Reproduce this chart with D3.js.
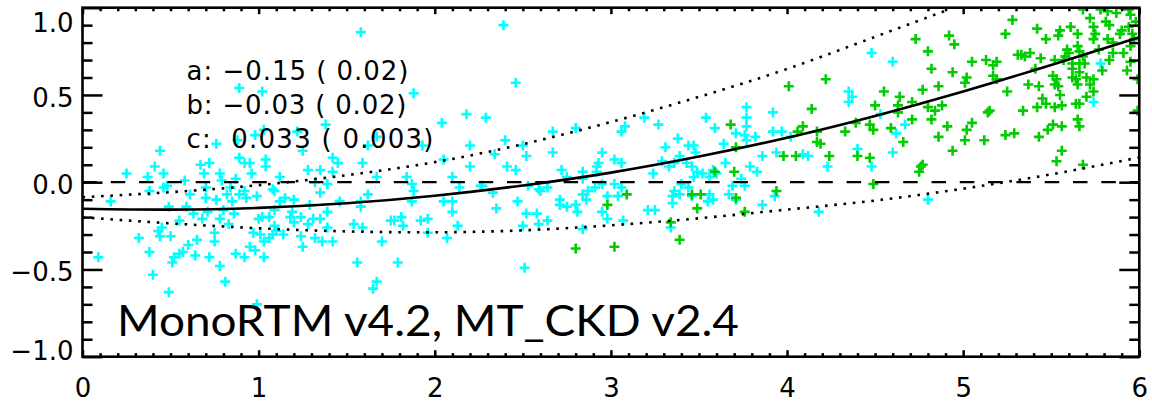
<!DOCTYPE html>
<html><head><meta charset="utf-8">
<script src="https://cdn.jsdelivr.net/npm/d3@7"></script>
<style>
html,body{margin:0;padding:0;background:#fff;overflow:hidden}
svg{display:block}
text{font-family:"DejaVu Sans",sans-serif}
</style>
</head><body>
<svg id="chart" width="1152" height="405"></svg>
<script>
// ---------- data ----------
const xTickValues = [0, 1, 2, 3, 4, 5, 6];
const xTickLabels = ["0", "1", "2", "3", "4", "5", "6"];
const yTickValues = [-1, -0.5, 0, 0.5, 1];
const yTickLabels = ["\u22121.0", "\u22120.5", "0.0", "0.5", "1.0"];

const fitX = [0, 0.5, 1, 1.5, 2, 2.5, 3, 3.5, 4, 4.5, 5, 5.5, 6];
const fitY = [-0.152, -0.157, -0.147, -0.121, -0.078, -0.019, 0.055, 0.147, 0.255, 0.380, 0.520, 0.672, 0.830];

const upperX = [0, 0.5, 1, 1.5, 2, 2.5, 3, 3.5, 4, 4.5, 4.92];
const upperY = [-0.086, -0.057, -0.017, 0.040, 0.115, 0.218, 0.345, 0.489, 0.649, 0.833, 0.99];

const lowerX = [0, 0.5, 1, 1.5, 2, 2.5, 3, 3.5, 4, 4.5, 5, 5.5, 6];
const lowerY = [-0.201, -0.236, -0.264, -0.282, -0.287, -0.276, -0.247, -0.207, -0.157, -0.105, -0.037, 0.045, 0.142];

const cyanPoints = [
[0.09,-0.43],[0.16,-0.11],[0.25,0.05],[0.32,-0.32],[0.37,0.03],[0.38,-0.40],[0.38,-0.05],[0.40,-0.53],[0.41,0.09],[0.44,0.18],
[0.43,-0.28],[0.44,-0.31],[0.45,-0.26],[0.46,0.05],[0.46,-0.03],[0.48,-0.02],[0.49,-0.14],[0.50,-0.31],[0.49,-0.63],[0.52,-0.43],
[0.51,-0.46],[0.55,-0.41],[0.57,-0.40],[0.55,-0.22],[0.58,0.01],[0.59,-0.14],[0.60,-0.36],[0.61,-0.07],[0.63,-0.18],[0.64,-0.42],
[0.65,-0.33],[0.67,0.10],[0.68,-0.21],[0.69,0.05],[0.70,-0.03],[0.70,-0.09],[0.71,-0.17],[0.72,0.11],[0.72,-0.43],[0.75,-0.29],
[0.75,-0.34],[0.76,-0.10],[0.78,-0.48],[0.78,0.05],[0.79,0.01],[0.78,-0.21],[0.80,-0.16],[0.81,-0.57],[0.82,-0.07],[0.83,-0.24],
[0.84,-0.03],[0.85,-0.11],[0.86,-0.18],[0.87,0.02],[0.87,-0.41],[0.89,0.14],[0.89,-0.07],[0.92,-0.05],[0.92,-0.43],[0.92,0.11],
[0.93,-0.09],[0.95,-0.37],[0.95,0.11],[0.96,0.05],[0.97,-0.29],[0.98,-0.39],[0.99,-0.08],[1.00,-0.21],[1.01,-0.30],[1.02,-0.20],
[1.03,-0.43],[1.04,0.13],[1.04,0.09],[1.03,-0.34],[1.06,-0.32],[1.08,-0.30],[1.06,-0.20],[1.08,-0.04],[1.09,-0.25],[1.10,-0.28],
[1.12,-0.11],[1.12,0.03],[1.03,0.30],[0.88,0.24],[0.76,0.22],[0.89,0.54],[1.02,0.52],[0.98,0.27],[0.99,-0.70],
[2.18,0.39],[2.04,0.34],[2.29,0.37],[1.38,0.33],[1.22,0.29],[1.67,0.26],[1.62,0.21],[1.25,0.18],[2.20,0.21],[1.42,0.14],
[1.45,0.11],[1.59,0.11],[2.05,0.13],[2.20,0.09],[1.28,0.07],[1.35,0.07],[1.42,0.06],[1.67,0.03],[1.84,0.03],[2.10,0.03],
[1.32,0.00],[1.39,-0.01],[1.87,-0.01],[2.14,-0.03],[1.09,-0.05],[1.35,-0.06],[1.62,-0.07],[1.88,-0.05],[1.15,-0.09],[1.20,-0.10],
[1.46,-0.11],[1.58,-0.11],[1.87,-0.11],[2.05,-0.11],[2.10,-0.11],[1.29,-0.13],[1.58,-0.14],[1.09,-0.16],[1.19,-0.17],[1.39,-0.17],
[2.10,-0.17],[1.18,-0.20],[1.24,-0.20],[1.31,-0.21],[1.35,-0.21],[1.81,-0.20],[1.75,-0.22],[1.77,-0.22],[1.92,-0.22],[1.96,-0.21],
[1.20,-0.23],[1.28,-0.24],[1.54,-0.24],[2.13,-0.25],[1.82,-0.25],[1.39,-0.26],[1.59,-0.26],[1.14,-0.30],[1.24,-0.31],[1.32,-0.32],
[1.36,-0.34],[1.42,-0.34],[1.70,-0.34],[1.96,-0.29],[2.07,-0.32],[1.25,-0.37],[1.56,-0.46],[1.79,-0.46],[1.67,-0.57],[1.65,-0.61],
[1.58,0.86],[2.39,0.90],[2.46,0.57],[1.88,0.51],[2.67,0.29],[2.80,0.31],[2.40,0.24],[2.50,0.21],[2.34,0.16],[2.52,0.15],
[2.67,0.17],[1.93,0.21],[2.41,0.09],[2.46,0.07],[2.72,0.07],[2.26,-0.02],[2.59,-0.04],[2.75,0.03],
[2.51,-0.49],[2.35,-0.15],[2.47,-0.11],[2.52,-0.18],[2.58,-0.18],[2.50,-0.25],[2.59,-0.24],[2.64,-0.22],[2.71,-0.13],[2.75,-0.14],
[2.80,-0.13],[2.81,-0.17],
[3.06,0.29],[3.08,0.32],[3.19,0.37],[3.27,0.33],[2.95,0.17],[2.93,0.11],[3.02,0.13],[3.06,0.11],[2.84,0.06],[2.84,0.02],
[2.92,0.06],[2.64,-0.03],[2.53,-0.02],[2.60,-0.05],[2.27,-0.02],[2.33,-0.06],[2.71,-0.10],[2.84,-0.07],[2.87,-0.05],[2.86,-0.10],
[2.91,-0.03],[2.95,-0.01],[2.98,-0.08],[3.02,-0.01],[3.04,-0.08],[3.06,-0.03],[2.95,-0.17],[2.98,-0.21],[3.07,-0.22],[2.84,-0.27],
[2.92,0.09],
[3.24,0.05],[3.29,0.12],[3.33,0.09],[3.38,0.25],[3.39,0.15],[3.36,0.11],[3.21,-0.16],[3.25,-0.16],[3.31,0.20],[3.44,0.21],
[3.43,0.11],[3.47,0.21],[3.48,0.17],[3.46,0.09],[3.49,0.06],[3.47,0.03],[3.52,0.05],[3.40,-0.01],[3.44,-0.03],[3.36,-0.05],
[3.39,-0.07],[3.35,-0.08],[3.35,-0.12],[3.46,-0.08],[3.56,-0.07],[3.55,-0.11],[3.58,-0.10],[3.60,0.05],[3.58,0.07],[3.56,0.03],
[3.65,0.11],[3.64,0.22],[3.54,0.37],[3.59,0.31],[3.71,0.28],[3.76,0.27],[3.77,0.43],[3.77,0.37],[3.77,0.32],[3.77,0.24],
[3.82,0.26],[3.79,0.09],[3.83,0.06],[3.69,-0.02],[3.74,0.02],[3.76,-0.02],[3.67,-0.07],[3.71,-0.10],[3.86,0.15],[3.86,-0.13],
[3.92,0.40],[3.92,0.29],[3.97,0.29],[3.93,-0.08],[3.94,0.17],[4.02,0.26],[4.09,0.16],[4.12,0.15],[4.18,-0.17],[4.23,0.09],
[4.35,0.52],[4.37,0.49],[4.35,0.46],[4.40,0.19],[4.48,0.09],[4.60,0.17],[4.62,0.28],[4.67,0.33],[4.60,0.69],[4.80,-0.10],
[3.34,-0.26],[4.48,0.74],[4.53,0.39],[5.78,0.68],[5.74,0.46]
];

const greenPoints = [
[3.09,-0.07],[2.98,-0.13],[2.80,-0.38],[3.02,-0.37],[3.34,-0.23],[3.39,-0.33],[3.46,-0.07],[3.51,-0.07],[3.49,-0.15],[3.59,0.06],
[3.68,0.33],[3.71,0.20],[3.70,0.06],[3.71,-0.09],[3.76,-0.17],[3.94,-0.05],[3.98,0.15],[4.01,0.55],[4.05,0.15],[4.06,0.29],
[4.09,0.32],[4.14,0.42],[4.17,0.29],[4.17,0.23],[4.19,0.22],[4.24,0.15],[4.22,0.59],[4.33,0.29],[4.39,0.34],[4.40,0.15],
[4.47,0.33],[4.47,0.14],[4.49,-0.01],[4.50,0.44],[4.49,0.30],[4.55,0.52],[4.59,0.31],[4.63,0.40],[4.64,0.49],[4.63,0.44],
[4.66,0.23],[4.71,0.46],[4.71,0.36],[4.76,0.09],[4.77,0.53],[4.80,0.43],[4.75,0.06],[4.73,0.82],[4.80,0.75],[4.82,0.65],
[4.84,0.41],[4.86,0.55],[4.88,0.44],[4.82,0.36],[4.77,0.10],[4.86,0.26],[4.91,0.32],[4.94,0.63],[4.92,0.84],[4.95,0.79],
[4.94,0.18],
[5.05,0.69],[5.01,0.57],[5.02,0.60],[5.05,0.34],[5.02,0.30],[5.01,0.24],[5.12,0.24],[5.14,0.40],[5.15,0.41],[5.13,0.70],
[5.17,0.67],[5.19,0.69],[5.17,0.61],[5.19,0.59],[5.24,0.85],[5.28,0.93],[5.25,0.52],[5.24,0.27],[5.29,0.28],[5.34,0.41],
[5.33,0.73],[5.31,0.73],[5.35,0.72],[5.38,0.74],[5.41,0.65],[5.37,0.56],[5.42,0.43],[5.43,0.26],[5.44,0.71],[5.43,0.55],
[5.45,0.48],[5.47,0.45],[5.42,0.88],[5.47,0.82],[5.48,0.30],[5.51,0.33],[5.52,0.43],[5.51,0.61],[5.52,0.70],[5.53,0.59],
[5.54,0.84],[5.55,0.87],[5.56,0.32],[5.56,0.18],[5.53,0.12],[5.52,0.56],[5.54,0.55],[5.55,0.50],[5.56,0.44],[5.57,0.70],
[5.58,0.72],[5.59,0.76],[5.60,0.74],[5.61,0.89],[5.62,0.65],[5.62,0.68],[5.62,0.60],[5.64,0.59],[5.65,0.85],[5.65,0.78],
[5.66,0.75],[5.66,0.68],[5.66,0.63],[5.68,0.72],[5.69,0.68],[5.70,0.60],[5.65,0.56],[5.66,0.45],[5.64,0.45],[5.65,0.36],
[5.66,0.32],[5.68,0.10],[5.68,0.99],[5.72,0.56],[5.70,0.49],[5.72,0.94],[5.74,0.89],[5.75,0.85],[5.74,0.82],[5.74,0.59],
[5.74,0.52],[5.77,0.76],[5.78,0.99],[5.79,0.64],[5.81,0.92],[5.82,0.82],[5.82,0.98],[5.83,0.90],[5.85,0.74],[5.85,0.80],
[5.83,0.70],[5.87,0.97],[5.89,0.85],[5.90,0.87],[5.91,0.74],[5.93,0.64],[5.94,0.99],[5.95,0.96],[5.95,0.78],[5.96,0.85],
[5.97,0.82],[5.95,0.69],[5.99,0.59],[5.99,0.41],[5.98,0.92],[5.94,0.89]
];

const annotations = ["a: \u22120.15 ( 0.02)", "b: \u22120.03 ( 0.02)", "c:  0.033 ( 0.003)"];
const titleText = "MonoRTM v4.2, MT_CKD v2.4";

// ---------- layout ----------
const L = 82.5, R = 1139.3, T = 7.7, B = 356.7;
const svg = d3.select("#chart");
const x = d3.scaleLinear().domain([0, 6]).range([L, R]);
const y = d3.scaleLinear().domain([-1, 1]).range([B, T]);

svg.append("defs").append("clipPath").attr("id", "plotclip")
  .append("rect").attr("x", L).attr("y", T).attr("width", R - L).attr("height", B - T);

const plot = svg.append("g").attr("clip-path", "url(#plotclip)");

// points
const plus = "M-5,0H5M0,-5V5";
plot.append("g").selectAll("path").data(cyanPoints).join("path")
  .attr("d", plus).attr("transform", d => `translate(${x(d[0])},${y(d[1])})`)
  .attr("stroke", "#00FFFF").attr("stroke-width", 2.6).attr("fill", "none");
plot.append("g").selectAll("path").data(greenPoints).join("path")
  .attr("d", plus).attr("transform", d => `translate(${x(d[0])},${y(d[1])})`)
  .attr("stroke", "#00CC00").attr("stroke-width", 2.6).attr("fill", "none");

// zero dashed line
plot.append("line").attr("x1", x(0)).attr("x2", x(6)).attr("y1", y(0)).attr("y2", y(0))
  .attr("stroke", "#000").attr("stroke-width", 2.3).attr("stroke-dasharray", "14.5,13.8");

const line = d3.line().x(d => x(d[0])).y(d => y(d[1])).curve(d3.curveNatural);
const zip = (a, b) => a.map((v, i) => [v, b[i]]);

plot.append("path").attr("d", line(zip(fitX, fitY)))
  .attr("fill", "none").attr("stroke", "#000").attr("stroke-width", 2.6);
plot.append("path").attr("d", line(zip(upperX, upperY)))
  .attr("fill", "none").attr("stroke", "#000").attr("stroke-width", 2.6).attr("stroke-dasharray", "2.6,6.7");
plot.append("path").attr("d", line(zip(lowerX, lowerY)))
  .attr("fill", "none").attr("stroke", "#000").attr("stroke-width", 2.6).attr("stroke-dasharray", "2.6,6.7");

// axes
const xMinor = d3.range(1, 60).map(d => d / 10).filter(d => Math.abs(d - Math.round(d)) > 1e-6);
const yMinor = d3.range(-9, 10).map(d => d / 10).filter(d => Math.abs(d * 2 - Math.round(d * 2)) > 1e-6);

function styleAxis(g) {
  g.select(".domain").remove();
  g.selectAll("line").attr("stroke", "#000").attr("stroke-width", 2.5);
  g.selectAll("text").attr("fill", "#000").style("font-size", "26px").style("font-family", "DejaVu Sans, sans-serif");
}

// bottom
svg.append("g").attr("transform", `translate(0,${B})`)
  .call(d3.axisBottom(x).tickValues(xTickValues).tickSize(-6.5).tickSizeOuter(0).tickPadding(22)
    .tickFormat((d, i) => xTickLabels[i]))
  .call(styleAxis);
svg.append("g").attr("transform", `translate(0,${B})`)
  .call(d3.axisBottom(x).tickValues(xMinor).tickSize(-3.6).tickSizeOuter(0).tickFormat(""))
  .call(styleAxis);
// top
svg.append("g").attr("transform", `translate(0,${T})`)
  .call(d3.axisTop(x).tickValues(xTickValues).tickSize(-6.5).tickSizeOuter(0).tickFormat(""))
  .call(styleAxis);
svg.append("g").attr("transform", `translate(0,${T})`)
  .call(d3.axisTop(x).tickValues(xMinor).tickSize(-3.6).tickSizeOuter(0).tickFormat(""))
  .call(styleAxis);
// left
const yl = svg.append("g").attr("transform", `translate(${L},0)`)
  .call(d3.axisLeft(y).tickValues(yTickValues).tickSize(-20).tickSizeOuter(0).tickPadding(9)
    .tickFormat((d, i) => yTickLabels[i]))
  .call(styleAxis);
yl.selectAll("text").attr("dy", d => d === 1 ? "0.9em" : (d === -1 ? "0.1em" : "0.44em"));
svg.append("g").attr("transform", `translate(${L},0)`)
  .call(d3.axisLeft(y).tickValues(yMinor).tickSize(-10).tickSizeOuter(0).tickFormat(""))
  .call(styleAxis);
// right
svg.append("g").attr("transform", `translate(${R},0)`)
  .call(d3.axisRight(y).tickValues(yTickValues).tickSize(-20).tickSizeOuter(0).tickFormat(""))
  .call(styleAxis);
svg.append("g").attr("transform", `translate(${R},0)`)
  .call(d3.axisRight(y).tickValues(yMinor).tickSize(-10).tickSizeOuter(0).tickFormat(""))
  .call(styleAxis);

// frame
svg.append("rect").attr("x", L).attr("y", T).attr("width", R - L).attr("height", B - T)
  .attr("fill", "none").attr("stroke", "#000").attr("stroke-width", 2.6);

// annotations
const annBase = [80, 113.5, 147.5];
const annLen = [222, 220, 247];
svg.append("g").selectAll("text").data(annotations).join("text")
  .attr("x", 186.5).attr("y", (d, i) => annBase[i])
  .attr("textLength", (d, i) => annLen[i]).attr("lengthAdjust", "spacing")
  .style("white-space", "pre").style("font-size", "26px").attr("fill", "#000")
  .text(d => d);

// title
svg.append("text").attr("x", 117).attr("y", 336)
  .attr("textLength", 622).attr("lengthAdjust", "spacingAndGlyphs")
  .style("font-family", "Lato, 'Open Sans', sans-serif").style("font-size", "42px").attr("fill", "#000")
  .text(titleText);
</script>
</body></html>
